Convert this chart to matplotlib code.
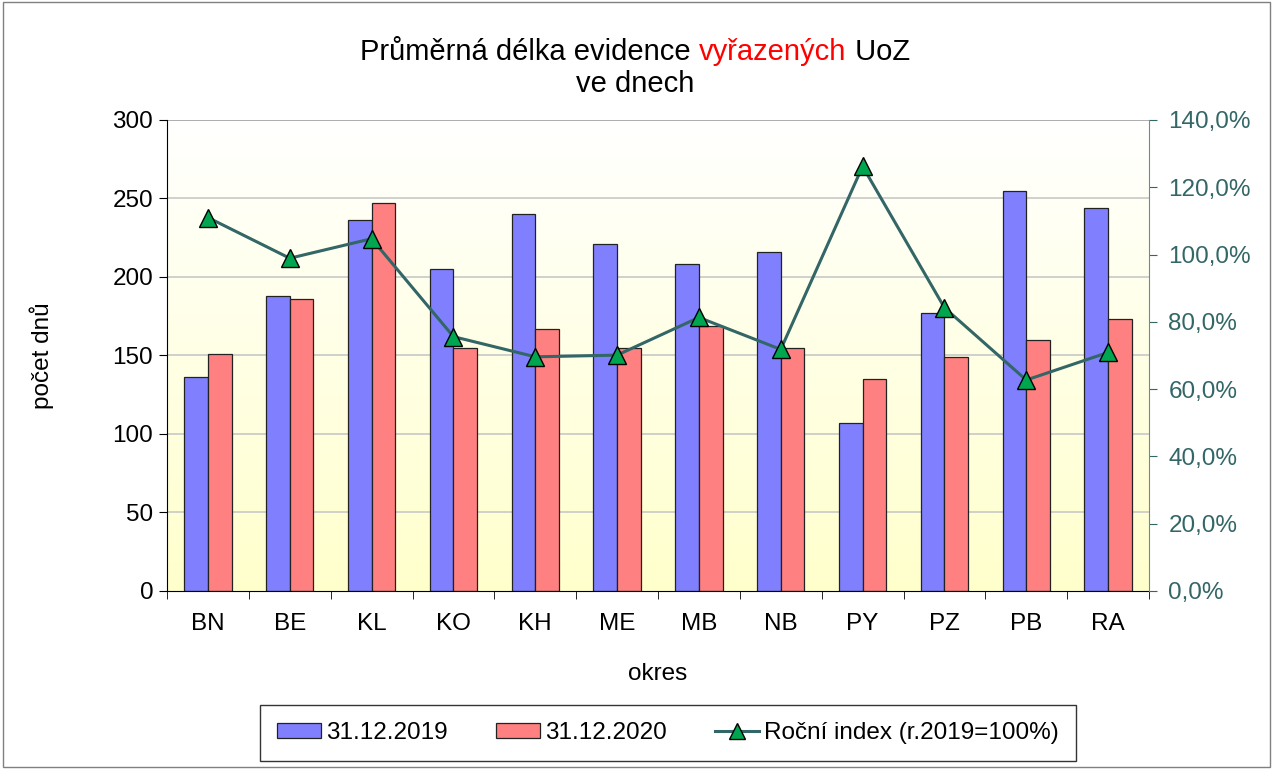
import matplotlib.pyplot as plt
import numpy as np
from matplotlib.colors import LinearSegmentedColormap
from matplotlib.patches import Rectangle
from matplotlib.lines import Line2D

plt.rcParams['font.family'] = ['Liberation Sans', 'DejaVu Sans']

okresy = ["BN", "BE", "KL", "KO", "KH", "ME", "MB", "NB", "PY", "PZ", "PB", "RA"]
dny_2019 = [136, 188, 236, 205, 240, 221, 208, 216, 107, 177, 255, 244]
dny_2020 = [151, 186, 247, 155, 167, 155, 169, 155, 135, 149, 160, 173]
index_pct = [111.0, 98.9, 104.7, 75.6, 69.6, 70.1, 81.3, 71.8, 126.2, 84.2, 62.7, 70.9]

blue = "#8080FF"
red = "#FF8080"
teal = "#336666"
fs = 17.5

fig = plt.figure(figsize=(12.73, 7.69), dpi=100)
ax = fig.add_axes([0.1312, 0.2315, 0.7714, 0.6125])

x = np.arange(len(okresy))
w = 0.29

# gradient background, white at top -> light yellow at bottom
cmap = LinearSegmentedColormap.from_list("bg", ["#FFFFFF", "#FFFFCC"])
grad = np.linspace(0, 1, 256).reshape(-1, 1)
ax.imshow(grad, aspect="auto", cmap=cmap, extent=[-0.5, 11.5, 0, 300],
          origin="upper", zorder=0)

for yv in range(50, 301, 50):
    ax.axhline(yv, color="#A0A0A0" if yv == 300 else "#C8C8C8", lw=1.2, zorder=1)

ax.bar(x - w / 2, dny_2019, w, color=blue, edgecolor="#222222", lw=0.9, zorder=2)
ax.bar(x + w / 2, dny_2020, w, color=red, edgecolor="#222222", lw=0.9, zorder=2)

ax.set_xlim(-0.5, 11.5)
ax.set_ylim(0, 300)
ax.set_yticks(range(0, 301, 50))
ax.set_xticks(x)
ax.set_xticklabels(okresy)
ax.set_xticks(np.arange(-0.5, 12, 1), minor=True)
ax.tick_params(axis="x", which="major", length=0, pad=16, labelsize=fs)
ax.tick_params(axis="x", which="minor", length=6, direction="out", color="black")
ax.tick_params(axis="y", length=6, direction="out", labelsize=fs, pad=4)
ax.spines["top"].set_visible(False)
ax.spines["right"].set_visible(False)
ax.spines["left"].set_color("black")
ax.spines["bottom"].set_color("black")
ax.set_ylabel("počet dnů", fontsize=fs, labelpad=42)
ax.set_xlabel("okres", fontsize=fs, labelpad=20)

ax2 = ax.twinx()
ax2.plot(x, index_pct, color=teal, lw=2.2, marker="^", markersize=13,
         markerfacecolor="#00A550", markeredgecolor="black", markeredgewidth=1, zorder=5)
ax2.set_ylim(0, 140)
ax2.set_yticks(range(0, 141, 20))
ax2.set_yticklabels([f"{v},0%" for v in range(0, 141, 20)])
ax2.tick_params(axis="y", length=6, direction="out", colors=teal, labelsize=fs, pad=8)
ax2.spines["right"].set_color("#6E8C8C")
ax2.spines["top"].set_visible(False)
ax2.spines["left"].set_visible(False)
ax2.spines["bottom"].set_visible(False)

# title with red word
fig.canvas.draw()
r = fig.canvas.get_renderer()
parts = [("Průměrná délka evidence ", "black"), ("vyřazených", "#FF0000"), (" UoZ", "black")]
texts = [fig.text(0, 0.933, p, fontsize=21, color=c, va="center", ha="left") for p, c in parts]
widths = [t.get_window_extent(r).width for t in texts]
total = sum(widths)
start = 635 - total / 2
for t, wd in zip(texts, widths):
    t.set_x(start / 1273)
    start += wd
fig.text(635 / 1273, 0.891, "ve dnech", fontsize=21, ha="center", va="center")

handles = [
    Rectangle((0, 0), 1, 1, facecolor=blue, edgecolor="#222222", lw=0.9),
    Rectangle((0, 0), 1, 1, facecolor=red, edgecolor="#222222", lw=0.9),
    Line2D([], [], color=teal, lw=2.2, marker="^", markersize=11,
           markerfacecolor="#00A550", markeredgecolor="black"),
]
leg = fig.legend(handles, ["31.12.2019", "31.12.2020", "Roční index (r.2019=100%)"],
                 loc="center", bbox_to_anchor=(668 / 1273, 1 - 733 / 769), ncol=3,
                 fontsize=fs, frameon=True, fancybox=False, edgecolor="black",
                 borderpad=0.7, columnspacing=2.0, handlelength=1.8, handleheight=0.6,
                 handletextpad=0.2, borderaxespad=0)
leg.get_frame().set_linewidth(1.0)

fig.patches.append(Rectangle((0.002, 0.002), 0.996, 0.996, transform=fig.transFigure,
                             fill=False, edgecolor="#808080", lw=1))

fig.savefig("out.png", dpi=100)
